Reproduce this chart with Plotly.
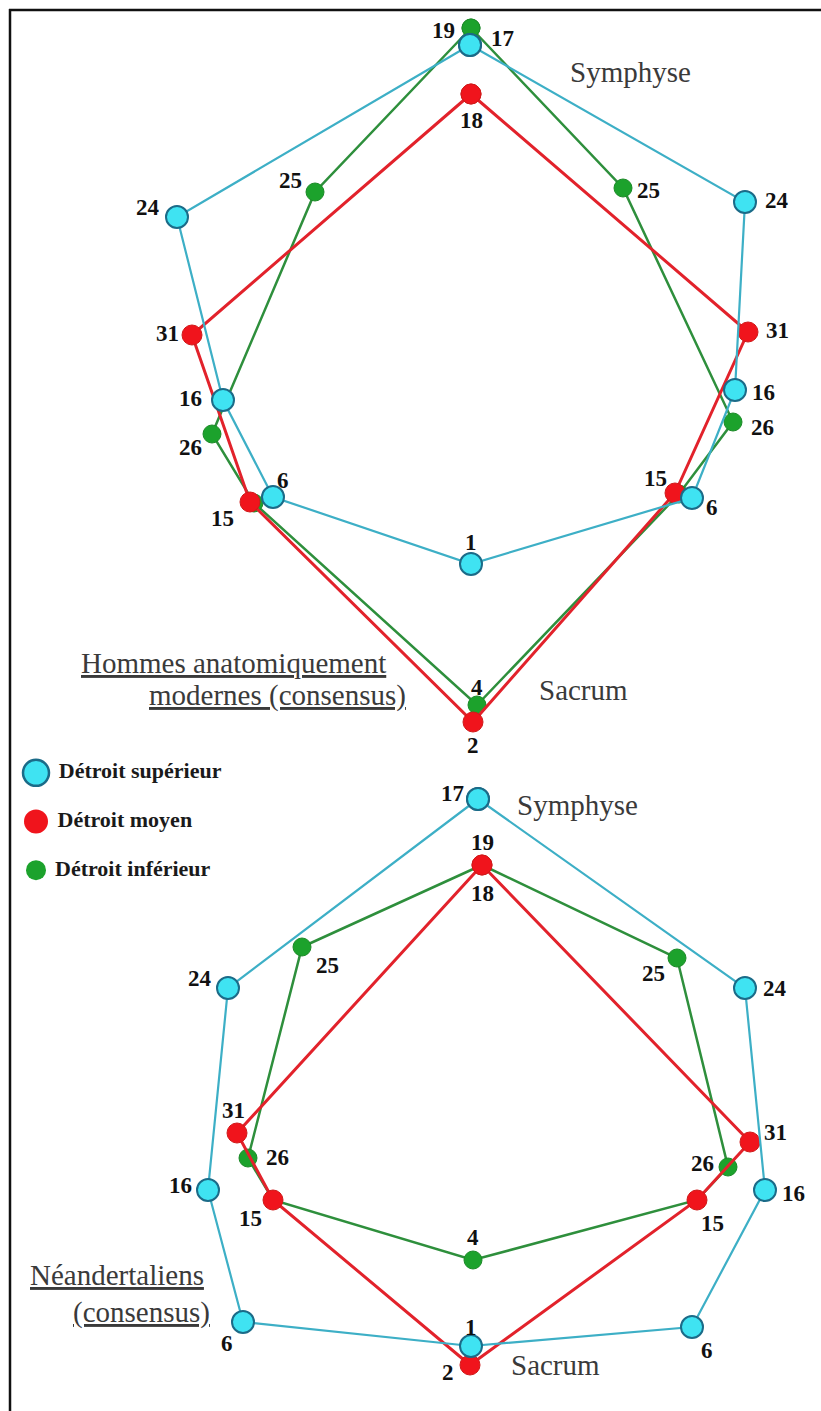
import plotly.graph_objects as go

# ---------------- data (landmark coordinates; y grows downward) -------------
# Top panel : Hommes anatomiquement modernes (consensus)
hm_sup_labels = ["17", "24", "16", "6", "1", "6", "16", "24"]
hm_sup_x = [470, 745, 735, 692, 471, 273, 223, 177]
hm_sup_y = [45, 202, 390, 498, 564, 497, 400, 217]

hm_moy_labels = ["18", "31", "15", "2", "15", "31"]
hm_moy_x = [471, 748, 675, 473, 250, 192]
hm_moy_y = [94, 332, 493, 722, 502, 335]

hm_inf_labels = ["19", "25", "26", "", "4", "", "26", "25"]
hm_inf_x = [471, 623, 733, 679, 477, 254, 212, 315]
hm_inf_y = [28, 188, 422, 494, 705, 503, 434, 192]

# Bottom panel : Néandertaliens (consensus)
ne_sup_labels = ["17", "24", "16", "6", "1", "6", "16", "24"]
ne_sup_x = [478, 745, 765, 692, 471, 243, 208, 228]
ne_sup_y = [799, 988, 1190, 1327, 1346, 1322, 1190, 988]

ne_moy_labels = ["18", "31", "15", "2", "15", "31"]
ne_moy_x = [482, 750, 697, 470, 273, 237]
ne_moy_y = [865, 1142, 1200, 1365, 1200, 1133]

ne_inf_labels = ["19", "25", "26", "", "4", "", "26", "25"]
ne_inf_x = [482, 677, 728, 697, 473, 273, 248, 302]
ne_inf_y = [865, 958, 1167, 1200, 1260, 1200, 1158, 947]

series_names = ["Détroit supérieur", "Détroit moyen", "Détroit inférieur"]

# ---------------- styling ----------------
SERIF = "Liberation Serif, Times New Roman, serif"
STY = {
    "sup": dict(line="#3DAFC6", fill="#3FE3F2", edge="#1B6B88", edge_w=2, size=22, lw=2.2),
    "moy": dict(line="#E2222B", fill="#F0141C", edge="#D01A1A", edge_w=1, size=20, lw=3),
    "inf": dict(line="#2E8F3C", fill="#1CA22C", edge="#1C8A28", edge_w=1, size=18, lw=2.5),
}

# label offsets (dx, dy) in pixels from each landmark
OFF = {
    "hm_sup": [(32, -7), (32, -2), (28, 2), (20, 9), (0, -22), (10, -17), (-33, -2), (-29, -10)],
    "hm_moy": [(0, 26), (29, -2), (-20, -15), (0, 23), (-28, 16), (-25, -2)],
    "hm_inf": [(-28, 2), (25, 2), (29, 5), (0, 0), (0, -18), (0, 0), (-22, 13), (-25, -12)],
    "ne_sup": [(-26, -6), (30, 0), (28, 3), (15, 23), (0, -19), (-16, 21), (-28, -5), (-28, -10)],
    "ne_moy": [(0, 28), (25, -10), (15, 23), (-22, 7), (-23, 18), (-4, -23)],
    "ne_inf": [(0, -23), (-24, 15), (-26, -4), (0, 0), (0, -23), (0, 0), (29, -1), (25, 18)],
}

panels = [
    ("hm_inf", "inf", hm_inf_x, hm_inf_y, hm_inf_labels),
    ("hm_moy", "moy", hm_moy_x, hm_moy_y, hm_moy_labels),
    ("hm_sup", "sup", hm_sup_x, hm_sup_y, hm_sup_labels),
    ("ne_inf", "inf", ne_inf_x, ne_inf_y, ne_inf_labels),
    ("ne_moy", "moy", ne_moy_x, ne_moy_y, ne_moy_labels),
    ("ne_sup", "sup", ne_sup_x, ne_sup_y, ne_sup_labels),
]

fig = go.Figure()
annotations = []

for key, kind, xs, ys, labs in panels:
    s = STY[kind]
    fig.add_trace(go.Scatter(
        x=list(xs) + [xs[0]], y=list(ys) + [ys[0]],
        mode="lines+markers",
        line=dict(color=s["line"], width=s["lw"]),
        marker=dict(size=s["size"], color=s["fill"], opacity=1,
                    line=dict(color=s["edge"], width=s["edge_w"])),
        showlegend=False, hoverinfo="skip", cliponaxis=False,
    ))
    for (x, y, lab, (dx, dy)) in zip(xs, ys, labs, OFF[key]):
        if not lab:
            continue
        annotations.append(dict(
            x=x, y=y, xref="x", yref="y", text=lab, showarrow=False,
            xshift=dx, yshift=-dy,
            font=dict(family=SERIF, size=23, color="#111111", weight="bold"),
        ))

# legend drawn as a small categorical scatter on its own axes
fig.add_trace(go.Scatter(
    x=[0, 0, 0], y=series_names, xaxis="x2", yaxis="y2",
    mode="markers+text", text=[" " + n for n in series_names], textposition="middle right",
    textfont=dict(family=SERIF, size=22, color="#1a1a1a", weight="bold"),
    marker=dict(size=[26, 24, 20], opacity=1,
                color=[STY["sup"]["fill"], STY["moy"]["fill"], STY["inf"]["fill"]],
                line=dict(color=[STY["sup"]["edge"], STY["moy"]["fill"], STY["inf"]["fill"]],
                          width=[2.5, 0, 0])),
    showlegend=False, hoverinfo="skip", cliponaxis=False,
))

# descriptive texts
txt_font = dict(family=SERIF, size=29, color="#3a3a3a")
for text, x, y in [
    ("Symphyse", 630, 72),
    ("Sacrum", 583, 690),
    ("<u>Hommes anatomiquement</u>", 233, 663),
    ("<u>modernes (consensus)</u>", 277, 695),
    ("Symphyse", 577, 805),
    ("Sacrum", 555, 1365),
    ("<u>Néandertaliens</u>", 117, 1275),
    ("<u>(consensus)</u>", 141, 1312),
]:
    annotations.append(dict(x=x, y=y, xref="x", yref="y", text=text,
                            showarrow=False, font=txt_font))

W, H = 821, 1411
fig.update_layout(
    width=W, height=H,
    margin=dict(l=0, r=0, t=0, b=0),
    paper_bgcolor="white", plot_bgcolor="white",
    xaxis=dict(range=[0, W], visible=False, domain=[0, 1]),
    yaxis=dict(range=[H, 0], visible=False, domain=[0, 1]),
    xaxis2=dict(range=[-1, 1], visible=False, domain=[0, 2 * 36 / W], anchor="y2"),
    yaxis2=dict(type="category", categoryarray=series_names, range=[2.5, -0.5],
                visible=False, anchor="x2",
                domain=[1 - 894.5 / H, 1 - 748.5 / H]),
    annotations=annotations,
    shapes=[
        dict(type="line", xref="x", yref="y", x0=9, x1=W, y0=10, y1=10,
             line=dict(color="#111111", width=2.5)),
        dict(type="line", xref="x", yref="y", x0=10, x1=10, y0=9, y1=H,
             line=dict(color="#111111", width=2.5)),
    ],
    showlegend=False,
)

fig.write_html("out.html",
               config={"displayModeBar": False, "staticPlot": True},
               post_script="document.body.style.margin='0';document.body.style.overflow='hidden';")
